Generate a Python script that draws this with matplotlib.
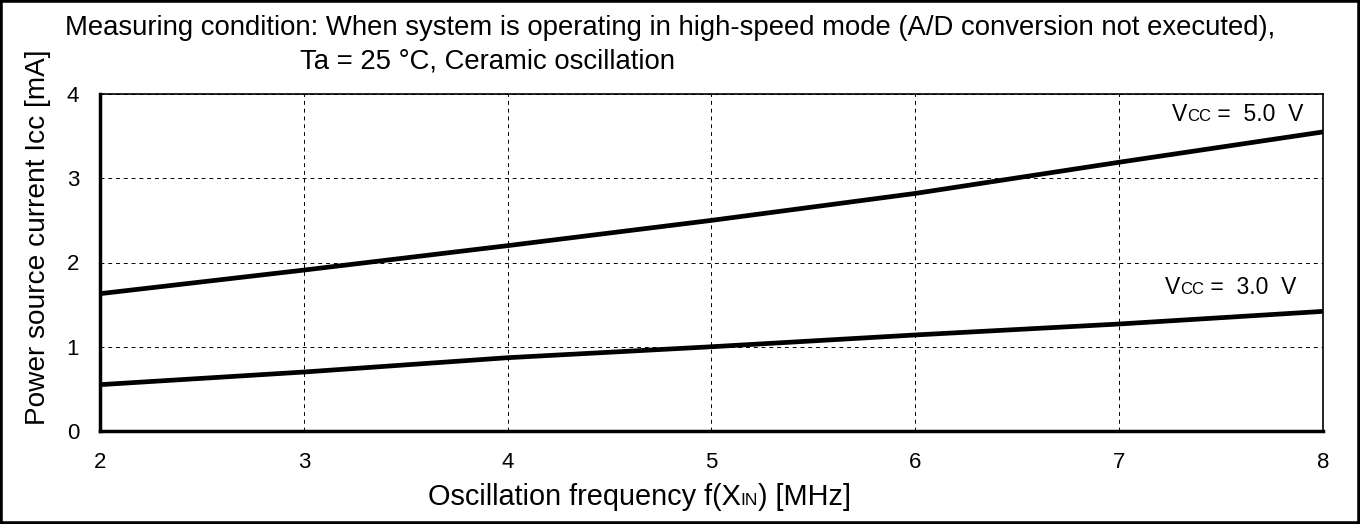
import matplotlib
matplotlib.use("Agg")
import matplotlib.pyplot as plt
from matplotlib.patches import Rectangle

plt.rcParams['font.family'] = ['Liberation Sans', 'DejaVu Sans']

freq = [2, 3, 4, 5, 6, 7, 8]
icc_5v = [1.63, 1.91, 2.20, 2.50, 2.82, 3.19, 3.55]
icc_3v = [0.55, 0.70, 0.87, 1.00, 1.14, 1.27, 1.42]
xticks = [2, 3, 4, 5, 6, 7, 8]
yticks = [0, 1, 2, 3, 4]

W, H = 1360, 524
fig = plt.figure(figsize=(W/100, H/100), dpi=100)
ax = fig.add_axes([100/W, 1-431/H, 1223/W, 337/H])

ax.plot(freq, icc_5v, color='black', lw=3.4, solid_capstyle='butt')
ax.plot(freq, icc_3v, color='black', lw=3.4, solid_capstyle='butt')

ax.set_xlim(2, 8)
ax.set_ylim(0, 4)
ax.set_xticks(xticks)
ax.set_yticks(yticks)
ax.tick_params(length=0, labelsize=16)
ax.tick_params(axis='x', pad=15)
ax.tick_params(axis='y', pad=15)
ax.grid(True, color='black', ls=(0, (4, 4)), lw=0.7)
for s in ['top', 'right']:
    ax.spines[s].set_linewidth(1.2)
for s in ['left', 'bottom']:
    ax.spines[s].set_linewidth(2.5)

fig.text(38/W, 1-237/H, 'Power source current Icc [mA]', rotation=90,
         ha='center', va='center', fontsize=20.2)

renderer = fig.canvas.get_renderer()

def chain(x, y_base, pieces):
    """pieces: list of (text, fontsize, dy) ; x,y in pixels from top-left."""
    cx = x
    for txt, fs, dy in pieces:
        t = fig.text(cx/W, 1-(y_base+dy)/H, txt, ha='left', va='baseline', fontsize=fs)
        bb = t.get_window_extent(renderer)
        cx = bb.x1

# x label
chain(428, 505, [('Oscillation frequency f(X', 20.8, 0), ('IN', 12.5, 0),
                 (') [MHz]', 20.8, 0)])

fig.text(65/W, 1-35/H,
         'Measuring condition: When system is operating in high-speed mode (A/D conversion not executed),',
         ha='left', va='baseline', fontsize=19.8)
fig.text(300/W, 1-69/H, 'Ta = 25 °C, Ceramic oscillation',
         ha='left', va='baseline', fontsize=19.8)

chain(1172, 121, [('V', 16.5, 0), ('CC', 12, 0), (' =  5.0  V', 16.5, 0)])
chain(1165, 294, [('V', 16.5, 0), ('CC', 12, 0), (' =  3.0  V', 16.5, 0)])

fig.add_artist(Rectangle((0, 0), 1, 1, transform=fig.transFigure, fill=False,
                         lw=4, edgecolor='black'))

fig.savefig('out.png', dpi=100)
